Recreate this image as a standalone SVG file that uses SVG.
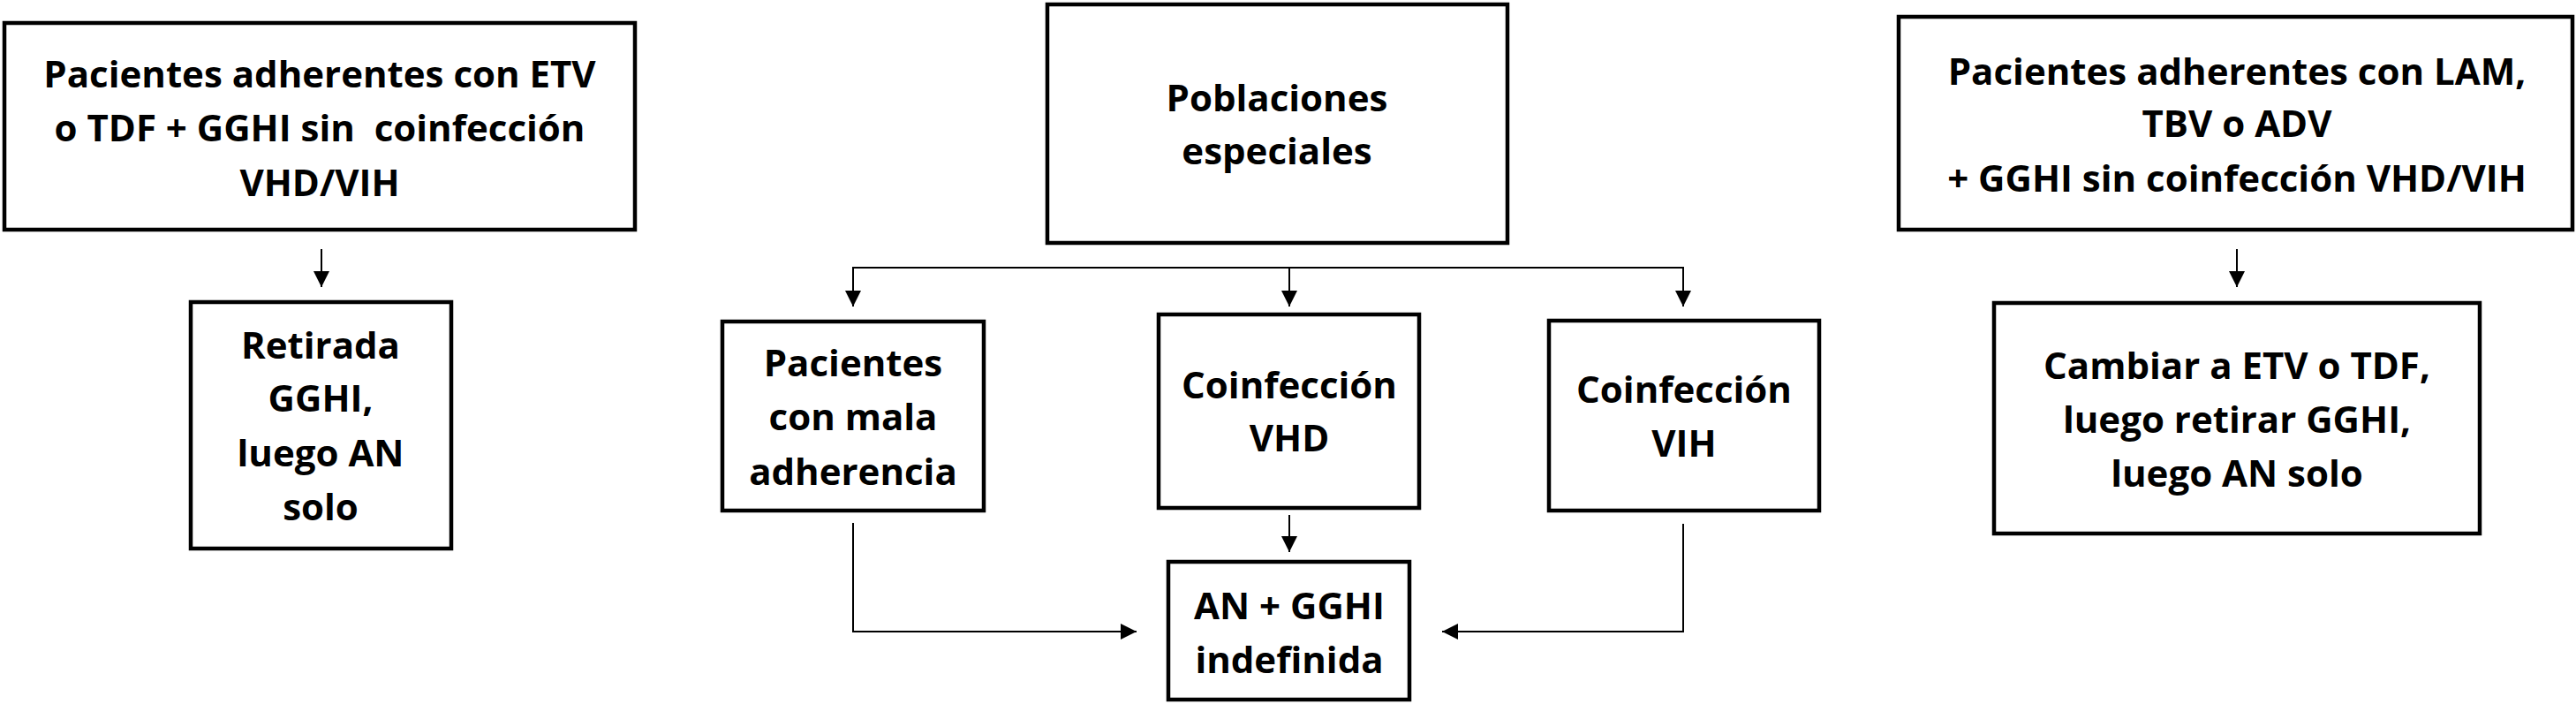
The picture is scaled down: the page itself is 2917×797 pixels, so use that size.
<svg xmlns="http://www.w3.org/2000/svg" width="2917" height="797" viewBox="0 0 2917 797">
<style>
.box{fill:#fff;stroke:#000;stroke-width:4.5}
.t{font-family:"Open Sans","Noto Sans","Liberation Sans",sans-serif;font-weight:bold;font-size:42px;fill:#000;text-anchor:middle}
.c{fill:none;stroke:#000;stroke-width:2}
</style>
<defs>
<marker id="ah" viewBox="0 0 18 18" refX="18" refY="9" markerWidth="18" markerHeight="18" markerUnits="userSpaceOnUse" orient="auto"><path d="M0,0 L18,9 L0,18 z" fill="#000"/></marker>
</defs>
<rect width="2917" height="797" fill="#fff"/>
<g id="connectors">
<line class="c" x1="364" y1="282" x2="364" y2="325" marker-end="url(#ah)"/>
<line class="c" x1="2533" y1="282" x2="2533" y2="325" marker-end="url(#ah)"/>
<polyline class="c" points="966,347 966,303 1906,303 1906,347" marker-end="url(#ah)"/>
<line class="c" x1="966" y1="303" x2="966" y2="347" marker-end="url(#ah)"/>
<line class="c" x1="1460" y1="303" x2="1460" y2="347" marker-end="url(#ah)"/>
<line class="c" x1="1460" y1="583" x2="1460" y2="625" marker-end="url(#ah)"/>
<polyline class="c" points="966,592 966,715 1287,715" marker-end="url(#ah)"/>
<polyline class="c" points="1906,593 1906,715 1633,715" marker-end="url(#ah)"/>
</g>
<g id="n-adherentes-etv">
<rect class="box" x="5" y="26" width="714" height="234"/>
<text class="t" x="362" y="99">Pacientes adherentes con ETV</text>
<text class="t" x="362" y="160" xml:space="preserve">o TDF + GGHI sin  coinfección</text>
<text class="t" x="362" y="222">VHD/VIH</text>
</g>
<g id="n-retirada">
<rect class="box" x="216" y="342" width="295" height="279"/>
<text class="t" x="363" y="406">Retirada</text>
<text class="t" x="363" y="466">GGHI,</text>
<text class="t" x="363" y="528">luego AN</text>
<text class="t" x="363" y="589">solo</text>
</g>
<g id="n-poblaciones">
<rect class="box" x="1186" y="5" width="521" height="270"/>
<text class="t" x="1446" y="126">Poblaciones</text>
<text class="t" x="1446" y="186">especiales</text>
</g>
<g id="n-mala-adherencia">
<rect class="box" x="818" y="364" width="296" height="214"/>
<text class="t" x="966" y="426">Pacientes</text>
<text class="t" x="966" y="487">con mala</text>
<text class="t" x="966" y="549">adherencia</text>
</g>
<g id="n-vhd">
<rect class="box" x="1312" y="356" width="295" height="219"/>
<text class="t" x="1460" y="451">Coinfección</text>
<text class="t" x="1460" y="511">VHD</text>
</g>
<g id="n-vih">
<rect class="box" x="1754" y="363" width="306" height="215"/>
<text class="t" x="1907" y="456">Coinfección</text>
<text class="t" x="1907" y="517">VIH</text>
</g>
<g id="n-an-gghi">
<rect class="box" x="1323" y="636" width="273" height="156"/>
<text class="t" x="1460" y="701">AN + GGHI</text>
<text class="t" x="1460" y="762">indefinida</text>
</g>
<g id="n-adherentes-lam">
<rect class="box" x="2150" y="19" width="763" height="241"/>
<text class="t" x="2533" y="96">Pacientes adherentes con LAM,</text>
<text class="t" x="2533" y="155">TBV o ADV</text>
<text class="t" x="2533" y="217">+ GGHI sin coinfección VHD/VIH</text>
</g>
<g id="n-cambiar">
<rect class="box" x="2258" y="343" width="550" height="261"/>
<text class="t" x="2533" y="429">Cambiar a ETV o TDF,</text>
<text class="t" x="2533" y="490">luego retirar GGHI,</text>
<text class="t" x="2533" y="551">luego AN solo</text>
</g>
</svg>
